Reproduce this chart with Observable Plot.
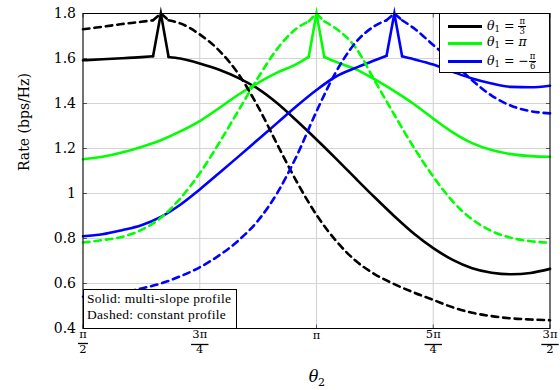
<!DOCTYPE html>
<html><head><meta charset="utf-8">
<script src="https://cdn.jsdelivr.net/npm/d3@7"></script>
<script src="https://cdn.jsdelivr.net/npm/@observablehq/plot@0.6"></script>
<style>
body{margin:0;background:#fff;}
#wrap{position:relative;width:560px;height:390px;font-family:"DejaVu Serif",serif;color:#000;}
#wrap svg{position:absolute;left:0;top:0;}
.legend{position:absolute;left:439px;top:13px;width:110.5px;height:60px;box-sizing:border-box;border:1px solid #000;background:#fff;}
.legend .sw{position:absolute;left:8px;width:34px;height:3px;margin-top:-1.5px;}
.legend .lab{position:absolute;left:47px;font-size:12.5px;line-height:1;transform:translateY(-50%);white-space:nowrap;}
.frac{display:inline-flex;flex-direction:column;align-items:center;vertical-align:middle;font-size:8.5px;line-height:1;}
.frac span:first-child{border-bottom:0.8px solid #000;padding:0 1px;}
.lab sub{font-size:8.5px;vertical-align:-2px;}
.note{position:absolute;left:82.5px;top:288.5px;width:154px;height:40px;box-sizing:border-box;border:1px solid #000;background:#fff;font-family:"Liberation Serif",serif;font-size:13.5px;letter-spacing:0.3px;line-height:16px;padding:1px 0 0 3.5px;white-space:nowrap;}
</style></head><body><div id="wrap"></div>
<script>
// x positions in multiples of pi
const xTicks = [0.5, 0.75, 1, 1.25, 1.5];
const xNum = ["π", "3π", "π", "5π", "3π"];
const xDen = ["2", "4", "", "4", "2"];
const yTicks = [0.4, 0.6, 0.8, 1, 1.2, 1.4, 1.6, 1.8];
const yLabels = ["0.4", "0.6", "0.8", "1", "1.2", "1.4", "1.6", "1.8"];

const blackX = [0.5, 0.5417, 0.5833, 0.625, 0.65, 0.6667, 0.6833, 0.7083, 0.75, 0.7917, 0.8333, 0.875, 0.9167, 0.9583, 1, 1.0417, 1.0833, 1.125, 1.1667, 1.2083, 1.25, 1.2917, 1.3333, 1.375, 1.4167, 1.4583, 1.5];
const blackSolid = [1.592, 1.597, 1.601, 1.606, 1.610, 1.80, 1.607, 1.600, 1.578, 1.550, 1.513, 1.465, 1.400, 1.322, 1.240, 1.155, 1.068, 0.982, 0.899, 0.822, 0.757, 0.705, 0.668, 0.648, 0.641, 0.647, 0.665];
const blackDashed = [1.730, 1.741, 1.753, 1.763, 1.770, 1.80, 1.770, 1.756, 1.707, 1.635, 1.53, 1.385, 1.215, 1.05, 0.905, 0.79, 0.702, 0.641, 0.597, 0.560, 0.527, 0.494, 0.470, 0.455, 0.445, 0.440, 0.437];

const greenX = [0.5, 0.5417, 0.5833, 0.625, 0.6667, 0.7083, 0.75, 0.7917, 0.8333, 0.875, 0.9167, 0.9583, 0.9833, 1, 1.0167, 1.0417, 1.0833, 1.125, 1.1667, 1.2083, 1.25, 1.2917, 1.3333, 1.375, 1.4167, 1.4583, 1.5];
const greenSolid = [1.152, 1.163, 1.182, 1.207, 1.237, 1.276, 1.322, 1.380, 1.440, 1.492, 1.538, 1.576, 1.607, 1.80, 1.607, 1.585, 1.553, 1.507, 1.455, 1.398, 1.333, 1.272, 1.224, 1.193, 1.175, 1.166, 1.163];
const greenDashed = [0.782, 0.793, 0.807, 0.838, 0.892, 0.978, 1.09, 1.225, 1.37, 1.515, 1.645, 1.735, 1.765, 1.80, 1.765, 1.733, 1.65, 1.50, 1.35, 1.205, 1.075, 0.965, 0.885, 0.833, 0.803, 0.788, 0.781];

const blueX = [0.5, 0.5417, 0.5833, 0.625, 0.6667, 0.7083, 0.75, 0.7917, 0.8333, 0.875, 0.9167, 0.9583, 1, 1.0417, 1.0833, 1.125, 1.15, 1.1667, 1.1833, 1.2083, 1.25, 1.2917, 1.3333, 1.375, 1.4167, 1.4583, 1.5];
const blueSolid = [0.810, 0.819, 0.837, 0.859, 0.896, 0.950, 1.018, 1.091, 1.165, 1.240, 1.315, 1.390, 1.460, 1.520, 1.558, 1.592, 1.612, 1.80, 1.610, 1.597, 1.573, 1.541, 1.511, 1.489, 1.474, 1.472, 1.479];
const blueDashed = [0.541, 0.548, 0.560, 0.578, 0.600, 0.632, 0.672, 0.725, 0.792, 0.880, 1.005, 1.17, 1.365, 1.54, 1.67, 1.745, 1.77, 1.80, 1.77, 1.735, 1.66, 1.585, 1.503, 1.435, 1.39, 1.366, 1.356];

const seriesNames = ["θ1 = π/3", "θ1 = π", "θ1 = −π/6"];
const seriesColors = ["#000000", "#00ff00", "#0000ff"];

const rows = (xs, ys) => xs.map((x, i) => ({x, y: ys[i]}));
const series = [
  {d: rows(blackX, blackSolid), c: seriesColors[0], dash: null},
  {d: rows(greenX, greenSolid), c: seriesColors[1], dash: null},
  {d: rows(blueX, blueSolid), c: seriesColors[2], dash: null},
  {d: rows(blackX, blackDashed), c: seriesColors[0], dash: "6.5,5"},
  {d: rows(greenX, greenDashed), c: seriesColors[1], dash: "6.5,5"},
  {d: rows(blueX, blueDashed), c: seriesColors[2], dash: "6.5,5"}
];

// split each curve at its peak: smooth flanks, straight spike
function curveMarks(s) {
  const pk = d3.maxIndex(s.d, r => r.y);
  const opts = {x: "x", y: "y", stroke: s.c, strokeWidth: 2.6, strokeDasharray: s.dash, strokeLinejoin: "miter", strokeMiterlimit: 20};
  return [
    Plot.line(s.d.slice(0, pk), {...opts, curve: "monotone-x"}),
    Plot.line(s.d.slice(pk - 1, pk + 2), {...opts, curve: "linear"}),
    Plot.line(s.d.slice(pk + 1), {...opts, curve: "monotone-x"})
  ];
}

const tickRows = xTicks.map((v, i) => ({v, num: xNum[i], den: xDen[i]}));
const fracRows = tickRows.filter(d => d.den);
const plainRows = tickRows.filter(d => !d.den);
const barSymbol = hw => ({draw(ctx) { ctx.moveTo(-hw, 0); ctx.lineTo(hw, 0); }});
const segSymbol = (x0, y0, x1, y1) => ({draw(ctx) { ctx.moveTo(x0, y0); ctx.lineTo(x1, y1); }});
const tickStyle = {r: 3, stroke: "#555", strokeWidth: 1, fill: "none"};

const chart = Plot.plot({
  width: 560, height: 390,
  marginLeft: 82.5, marginRight: 10.5, marginTop: 13, marginBottom: 62,
  x: {domain: [0.5, 1.5], axis: null},
  y: {domain: [0.4, 1.8], axis: null},
  style: {fontFamily: '"DejaVu Serif", serif', fontSize: "14px", color: "#000", background: "#fff"},
  marks: [
    Plot.gridX(xTicks, {stroke: "#d4d4d4", strokeOpacity: 1, strokeWidth: 1.1}),
    Plot.gridY(yTicks, {stroke: "#d4d4d4", strokeOpacity: 1, strokeWidth: 1.1}),
    // inward tick marks on all four sides
    Plot.dot(yTicks, {y: d => d, frameAnchor: "left", symbol: segSymbol(0, 0, 4, 0), ...tickStyle}),
    Plot.dot(yTicks, {y: d => d, frameAnchor: "right", symbol: segSymbol(-4, 0, 0, 0), ...tickStyle}),
    Plot.dot(xTicks, {x: d => d, frameAnchor: "bottom", symbol: segSymbol(0, -4, 0, 0), ...tickStyle}),
    Plot.dot(xTicks, {x: d => d, frameAnchor: "top", symbol: segSymbol(0, 0, 0, 4), ...tickStyle}),
    ...series.flatMap(curveMarks),
    Plot.frame({stroke: "#000", strokeWidth: 1}),
    Plot.axisY(yTicks, {anchor: "left", tickSize: 0, tickPadding: 7, tickFormat: d => yLabels[yTicks.indexOf(d)], label: null, fontSize: 14}),
    Plot.text(fracRows, {x: "v", text: "num", frameAnchor: "bottom", dy: 9, fontSize: 11.5}),
    Plot.dot(fracRows.filter(d => d.num === "π"), {x: "v", frameAnchor: "bottom", dy: 15, symbol: barSymbol(5), r: 5, stroke: "#000", strokeWidth: 1.3, fill: "none"}),
    Plot.dot(fracRows.filter(d => d.num !== "π"), {x: "v", frameAnchor: "bottom", dy: 16, symbol: barSymbol(8.7), r: 5, stroke: "#000", strokeWidth: 1.3, fill: "none"}),
    Plot.text(fracRows, {x: "v", text: "den", frameAnchor: "bottom", dy: 24.3, fontSize: 11.5}),
    Plot.text(plainRows, {x: "v", text: "num", frameAnchor: "bottom", dy: 10.5, fontSize: 11.5}),
    Plot.text(["θ"], {text: d => d, frameAnchor: "bottom", dy: 53.5, dx: -3, fontSize: 16, fontStyle: "italic"}),
    Plot.text(["2"], {text: d => d, frameAnchor: "bottom", dy: 57.5, dx: 5, fontSize: 11}),
    Plot.text(["Rate (bps/Hz)"], {text: d => d, frameAnchor: "left", dx: -58, rotate: -90, fontSize: 14})
  ]
});

const wrap = document.getElementById("wrap");
wrap.appendChild(chart);

// legend
const legendHtml = [
  '<i>θ</i><sub>1</sub> = <span class="frac"><span>π</span><span>3</span></span>',
  '<i>θ</i><sub>1</sub> = <i>π</i>',
  '<i>θ</i><sub>1</sub> = −<span class="frac"><span>π</span><span>6</span></span>'
];
const rowY = [12.3, 29.3, 47.3];
const leg = document.createElement("div");
leg.className = "legend";
leg.setAttribute("aria-label", seriesNames.join("; "));
seriesColors.forEach((c, i) => {
  const sw = document.createElement("div");
  sw.className = "sw"; sw.style.top = rowY[i] + "px"; sw.style.background = c;
  const lab = document.createElement("div");
  lab.className = "lab"; lab.style.top = rowY[i] + "px"; lab.innerHTML = legendHtml[i];
  leg.appendChild(sw); leg.appendChild(lab);
});
wrap.appendChild(leg);

const note = document.createElement("div");
note.className = "note";
note.innerHTML = "Solid: multi-slope profile<br>Dashed: constant profile";
wrap.appendChild(note);
</script></body></html>
